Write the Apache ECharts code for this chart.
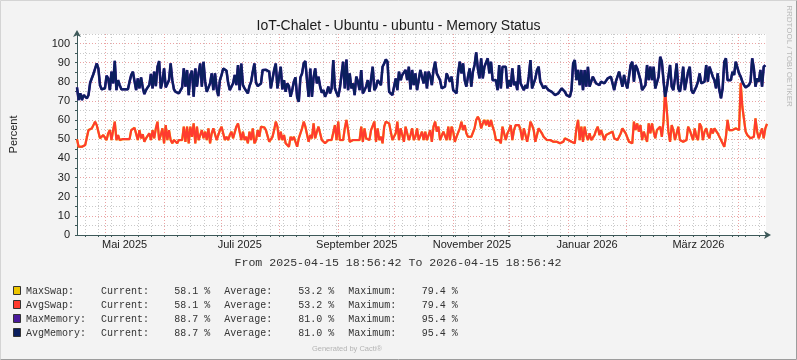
<!DOCTYPE html>
<html><head><meta charset="utf-8">
<script src="https://cdn.jsdelivr.net/npm/echarts@6/dist/echarts.min.js"></script>
<style>html,body{margin:0;padding:0;background:#f3f3f3}#c{width:797px;height:360px}</style>
</head><body><div id="c"></div>
<script>
// ---- time frame ----
const rangeStart = Date.UTC(2025, 3, 15, 18, 56, 42);
const rangeEnd = Date.UTC(2026, 3, 15, 18, 56, 42);
const sampleHours = 20.887; // spacing of the consolidated samples

// ---- series values (percent) ----
const avgMemory = [
77.1,70.5,74.0,70.5,73.1,72.2,71.4,73.1,79.5,80.1,
84.1,84.4,89.6,87.0,78.3,76.1,75.7,76.6,83.2,81.8,
75.7,85.3,79.2,91.0,75.7,80.9,78.3,76.1,76.1,76.1,
76.1,76.1,80.1,83.6,85.3,84.8,75.7,81.8,76.6,82.3,
77.1,73.6,75.7,77.1,78.3,84.1,76.6,85.3,77.8,87.9,
90.9,76.6,80.1,87.0,77.1,76.1,80.9,89.6,80.9,76.1,
74.8,74.0,74.0,74.8,77.1,87.0,77.5,86.2,73.1,83.6,
85.8,72.2,87.0,77.5,84.4,89.6,77.5,90.5,80.1,74.8,
75.7,79.2,84.4,75.7,84.4,76.6,72.6,80.9,83.6,87.0,
86.5,85.8,79.5,75.7,76.6,79.2,83.6,78.3,88.8,75.7,
89.6,78.3,76.6,77.1,74.0,77.8,80.1,85.3,89.6,79.5,
77.8,77.5,79.2,86.2,86.5,86.3,86.2,85.3,76.6,75.7,
86.2,89.6,76.6,76.1,87.9,76.1,80.9,74.8,79.2,77.8,
72.2,75.7,80.1,82.3,71.9,69.6,82.3,84.4,89.6,90.9,
80.9,72.2,87.0,72.2,82.3,87.0,79.2,82.7,77.5,74.3,
75.7,72.2,74.3,77.5,74.0,76.6,91.4,76.6,74.3,72.2,
76.6,75.7,90.5,76.6,91.7,75.7,84.4,76.6,79.2,73.1,
82.7,80.1,75.7,86.2,74.0,75.7,77.5,80.9,74.8,75.7,
87.9,75.7,77.1,80.9,80.1,78.3,87.9,89.6,91.7,90.5,
74.8,74.0,73.1,74.0,81.8,75.7,85.3,80.9,83.6,82.7,
86.2,80.9,87.9,76.1,86.2,78.3,84.4,75.7,75.7,86.2,
82.7,79.2,85.3,76.6,85.3,83.0,78.3,86.2,90.5,84.4,
83.6,80.9,76.6,75.7,77.5,84.4,85.3,80.1,82.7,75.7,
74.8,74.0,84.4,90.5,84.4,89.6,80.9,77.5,82.7,87.0,
77.5,85.3,88.8,95.4,87.0,81.8,92.3,81.8,87.9,87.9,
92.3,84.4,90.5,80.9,80.1,80.9,75.7,88.8,76.6,87.9,
87.0,87.9,76.6,80.9,77.5,87.0,78.3,80.1,75.7,88.8,
79.2,80.1,75.7,78.3,76.6,82.7,91.4,76.6,75.7,81.8,
86.2,87.9,80.1,79.2,76.6,77.8,77.1,75.7,76.6,74.8,
74.0,73.1,73.1,74.0,74.8,76.6,75.7,74.8,73.1,72.2,
72.2,75.7,89.6,91.4,80.9,86.2,78.3,86.2,75.7,86.2,
77.5,87.9,77.5,78.3,82.7,80.9,79.2,80.1,78.3,80.1,
80.9,79.2,80.1,81.8,81.8,82.7,83.6,75.7,80.1,79.2,
85.3,86.2,77.5,83.6,79.2,76.6,82.7,88.8,90.5,80.1,
88.8,87.0,86.2,80.9,75.7,74.8,78.3,88.8,80.9,87.9,
80.9,87.9,76.6,75.7,82.7,93.1,90.5,80.9,72.2,76.6,
82.7,88.8,77.5,75.7,81.8,89.6,76.6,74.8,80.1,87.9,
75.7,75.7,85.3,87.9,75.7,74.0,75.7,77.5,80.1,84.4,
79.2,78.3,80.1,88.8,80.1,87.9,87.9,82.7,80.9,76.6,
84.4,75.7,71.4,76.6,90.5,92.3,80.9,80.1,80.9,85.3,
83.6,90.5,91.4,84.4,82.7,80.1,78.3,77.1,77.5,78.3,
80.1,92.3,87.0,77.5,81.8,80.1,86.2,77.5,87.9,88.7
];
// MaxMemory is identical to AvgMemory in this graph (same current/avg/max)
const maxMemory = avgMemory.slice();

const avgSwap = [
50.0,46.1,47.0,46.1,46.5,47.0,47.9,54.8,55.2,55.7,
57.4,59.2,57.4,56.6,50.5,49.6,52.2,51.3,49.6,53.1,
54.8,49.6,54.8,59.2,49.6,52.2,49.6,50.0,50.1,50.1,
50.1,50.1,50.1,54.8,55.7,56.0,56.2,49.6,54.8,50.5,
52.6,48.7,50.5,49.6,53.1,49.6,54.8,50.5,55.7,59.2,
49.6,52.2,55.7,47.9,57.4,49.6,54.8,49.6,47.9,49.6,
48.7,47.9,49.6,49.6,49.6,56.6,48.7,56.6,47.9,56.6,
51.3,58.3,47.9,56.6,49.6,48.7,54.8,50.5,54.0,49.6,
55.7,47.9,53.1,55.7,54.8,49.6,48.7,54.8,56.6,56.0,
49.6,51.3,49.6,52.2,54.0,50.5,51.3,56.6,58.3,57.4,
49.6,54.0,49.6,51.3,47.9,54.0,49.6,55.7,47.9,49.6,
54.8,51.3,56.6,56.2,56.2,54.8,55.7,48.7,49.6,51.3,
54.8,59.2,56.6,49.6,54.0,49.6,52.2,47.9,47.9,46.1,
51.3,49.6,51.3,48.7,46.1,50.5,53.1,55.7,59.2,56.6,
55.7,48.7,52.2,50.5,58.3,50.5,
54.0,56.6,55.7,49.6,49.6,47.9,48.7,49.6,48.7,49.6,
49.6,57.4,49.6,59.2,49.6,49.6,49.6,55.7,60.1,54.8,
48.7,49.6,49.6,50.5,49.6,48.7,49.6,56.6,48.7,55.7,
50.5,49.6,49.6,54.8,54.0,59.2,48.7,55.7,49.6,51.3,
47.9,56.6,59.2,58.3,58.3,57.4,49.6,48.7,53.1,59.2,
49.6,55.7,56.6,48.7,56.6,57.4,49.6,52.2,55.7,49.6,
51.3,55.7,49.6,48.7,54.0,49.6,54.0,49.6,49.6,54.8,
48.7,56.6,59.2,54.0,56.6,49.6,48.7,54.0,54.8,49.6,
56.6,49.6,56.6,54.0,48.7,51.3,50.5,55.7,59.2,54.8,
57.4,53.1,51.3,50.5,51.3,51.3,55.7,60.1,61.8,60.1,
55.7,58.3,60.1,57.4,60.1,56.6,60.1,56.6,54.0,49.6,
48.7,49.6,47.9,56.6,57.4,49.6,53.1,54.8,57.4,49.6,
54.8,57.4,56.6,57.4,54.8,49.6,55.7,54.8,48.7,53.1,
59.2,57.4,54.8,48.7,49.6,55.7,56.6,53.1,51.3,52.2,
49.6,50.5,49.6,49.6,48.7,
48.7,48.7,47.9,47.9,47.9,48.7,50.5,49.6,49.6,48.7,
48.7,47.9,47.9,55.7,60.1,49.6,56.6,48.7,56.6,52.2,
49.6,53.1,49.6,49.6,52.2,54.8,56.6,52.2,54.8,54.0,
49.6,52.2,51.3,53.1,52.2,54.0,50.5,51.3,49.6,51.3,
53.1,55.7,55.7,53.1,54.0,48.7,47.9,47.9,59.2,54.8,
58.3,54.0,57.4,49.6,54.0,51.3,48.7,58.3,53.1,58.3,
54.0,50.5,54.8,54.8,56.6,51.3,59.2,75.7,65.3,54.0,
48.7,57.4,54.8,49.6,50.5,56.6,49.6,49.6,48.7,47.9,
49.6,56.6,54.8,55.7,49.6,55.7,51.3,49.6,58.3,56.6,
49.6,54.0,55.7,52.2,50.5,55.7,53.1,55.7,54.8,53.1,
52.2,49.6,48.7,46.1,51.3,60.1,54.8,55.7,54.8,54.0,
55.7,54.8,54.8,79.4,67.0,66.1,54.0,52.2,51.3,50.5,
50.5,51.3,60.9,54.0,50.5,53.1,55.7,50.5,55.7,58.1
];
// MaxSwap is identical to AvgSwap in this graph
const maxSwap = avgSwap.slice();

// ---- axis labels ----
const monthLabels = ['Mai 2025','Juli 2025','September 2025','November 2025','Januar 2026','März 2026'];
const monthLabelYM = [[2025,4],[2025,6],[2025,8],[2025,10],[2026,0],[2026,2]];
const yTickLabels = [0,10,20,30,40,50,60,70,80,90,100];

// ---- legend table ----
const legendNames = ['MaxSwap:','AvgSwap:','MaxMemory:','AvgMemory:'];
const legendColors = ['#EDC500','#FF3B2F','#4B1A9C','#0B1F5E'];
const legendCurrent = ['58.1 %','58.1 %','88.7 %','88.7 %'];
const legendAverage = ['53.2 %','53.2 %','81.0 %','81.0 %'];
const legendMaximum = ['79.4 %','79.4 %','95.4 %','95.4 %'];

const DAY = 86400000;
const stepMs = sampleHours * 3600000;
const toPairs = arr => arr.map((v, i) => [rangeStart + i * stepMs, v]);

// grid tick positions
const monthStarts = [];
for (let y = 2025, m = 4; ; ) { const t = Date.UTC(y, m, 1); if (t > rangeEnd) break; monthStarts.push(t); m++; if (m > 11) { m = 0; y++; } }
const weekStarts = [];
for (let t = Date.UTC(2025, 3, 20); t < rangeEnd; t += 7 * DAY) weekStarts.push(t);
const labelPos = monthLabelYM.map(([y, m]) => Date.UTC(y, m, 1) + 10 * DAY);
const labelMap = {}; labelPos.forEach((p, i) => labelMap[p] = monthLabels[i]);

const axisColor = '#3d5959';
const sans = 'Liberation Sans, Arial, sans-serif';
const mono = 'Liberation Mono, Courier New, monospace';

const gridBox = { left: 67, right: 31, top: 34, bottom: 125 };

const graphics = [];
// frame
graphics.push({ type: 'line', shape: { x1: 0.5, y1: 0.5, x2: 796.5, y2: 0.5 }, style: { stroke: '#d4d4d4', lineWidth: 1 }, silent: true });
graphics.push({ type: 'line', shape: { x1: 0.5, y1: 0.5, x2: 0.5, y2: 359.5 }, style: { stroke: '#d4d4d4', lineWidth: 1 }, silent: true });
graphics.push({ type: 'line', shape: { x1: 796.5, y1: 0.5, x2: 796.5, y2: 359.5 }, style: { stroke: '#9c9c9c', lineWidth: 1 }, silent: true });
graphics.push({ type: 'line', shape: { x1: 0.5, y1: 359.5, x2: 796.5, y2: 359.5 }, style: { stroke: '#9c9c9c', lineWidth: 1 }, silent: true });
// watermark
graphics.push({ type: 'text', x: 789, y: 56, rotation: -Math.PI / 2,
  style: { text: 'RRDTOOL / TOBI OETIKER', fill: '#b8b8b8', font: '8px ' + sans, textAlign: 'center', textVerticalAlign: 'middle' }, silent: true });
// date range line
graphics.push({ type: 'text', x: 398, y: 263,
  style: { text: 'From 2025-04-15 18:56:42 To 2026-04-15 18:56:42', fill: '#333', font: '11.6px ' + mono, textAlign: 'center', textVerticalAlign: 'middle' }, silent: true });
// legend rows
const rowY = [291, 305, 319, 333];
legendNames.forEach((name, i) => {
  const y = rowY[i];
  graphics.push({ type: 'rect', shape: { x: 13.5, y: y - 4.5, width: 7, height: 8 }, style: { fill: legendColors[i], stroke: '#333', lineWidth: 1 }, silent: true });
  const cells = [[26, name], [101, 'Current:'], [174.3, legendCurrent[i]], [224.3, 'Average:'], [298.3, legendAverage[i]], [348.3, 'Maximum:'], [421.7, legendMaximum[i]]];
  cells.forEach(([x, t]) => graphics.push({ type: 'text', x: x, y: y,
    style: { text: t, fill: '#333', font: '10px ' + mono, textAlign: 'left', textVerticalAlign: 'middle' }, silent: true }));
});
graphics.push({ type: 'text', x: 347, y: 349,
  style: { text: 'Generated by Cacti®', fill: '#b4b4b4', font: '7.5px ' + sans, textAlign: 'center', textVerticalAlign: 'middle' }, silent: true });

const hiddenAxisBase = {
  type: 'value', min: rangeStart, max: rangeEnd, position: 'bottom',
  axisLine: { show: false }, axisLabel: { show: false }
};

const option = {
  animation: false,
  backgroundColor: '#f3f3f3',
  title: {
    text: 'IoT-Chalet - Ubuntu - ubuntu - Memory Status',
    left: 'center', top: 14,
    textStyle: { fontFamily: sans, fontSize: 14, fontWeight: 'normal', color: '#1a1a1a' }
  },
  grid: Object.assign({ show: true, backgroundColor: '#ffffff', borderWidth: 0, containLabel: false }, gridBox),
  xAxis: [
    Object.assign({}, hiddenAxisBase, {
      axisTick: { show: false, customValues: weekStarts },
      splitLine: { show: true, lineStyle: { color: '#c9c9c9', width: 1, type: [1, 2] } }
    }),
    Object.assign({}, hiddenAxisBase, {
      axisTick: { show: false, customValues: monthStarts },
      splitLine: { show: true, lineStyle: { color: '#eba3a3', width: 1, type: [1, 2] } }
    }),
    {
      type: 'value', min: rangeStart, max: rangeEnd, position: 'bottom',
      axisLine: { show: true, onZero: false, lineStyle: { color: axisColor, width: 1 },
        symbol: ['none', 'arrow'], symbolSize: [6, 7], symbolOffset: [0, 5] },
      axisTick: { show: true, length: 2, customValues: weekStarts.concat(monthStarts), lineStyle: { color: axisColor } },
      axisLabel: { show: true, customValues: labelPos, margin: 4, color: '#222', fontFamily: sans, fontSize: 11,
        formatter: v => labelMap[v] || '' },
      splitLine: { show: false }
    }
  ],
  yAxis: {
    type: 'value', min: 0, max: 105, interval: 5,
    name: 'Percent', nameLocation: 'middle', nameRotate: 90, nameGap: 58,
    nameTextStyle: { fontFamily: sans, fontSize: 11, color: '#222' },
    axisLine: { show: true, lineStyle: { color: axisColor, width: 1 },
      symbol: ['none', 'arrow'], symbolSize: [6, 7], symbolOffset: [0, 4] },
    axisTick: { show: true, length: 2, lineStyle: { color: axisColor } },
    axisLabel: { margin: 7, color: '#222', fontFamily: sans, fontSize: 11,
      formatter: v => (yTickLabels.indexOf(v) >= 0 ? String(v) : '') },
    splitLine: { show: true, lineStyle: { color: ['#eba3a3', '#c9c9c9'], width: 1, type: [1, 2] } }
  },
  series: [
    { name: 'MaxSwap', type: 'line', xAxisIndex: 2, data: toPairs(maxSwap), showSymbol: false, symbol: 'none',
      lineStyle: { color: legendColors[0], width: 2.3 }, z: 3 },
    { name: 'AvgSwap', type: 'line', xAxisIndex: 2, data: toPairs(avgSwap), showSymbol: false, symbol: 'none',
      lineStyle: { color: legendColors[1], width: 2.1 }, z: 4 },
    { name: 'MaxMemory', type: 'line', xAxisIndex: 2, data: toPairs(maxMemory), showSymbol: false, symbol: 'none',
      lineStyle: { color: legendColors[2], width: 2.6 }, z: 5 },
    { name: 'AvgMemory', type: 'line', xAxisIndex: 2, data: toPairs(avgMemory), showSymbol: false, symbol: 'none',
      lineStyle: { color: legendColors[3], width: 2.2 }, z: 6 }
  ],
  graphic: graphics
};

const chart = echarts.init(document.getElementById('c'), null, { renderer: 'canvas' });
chart.setOption(option);
</script>
</body></html>
